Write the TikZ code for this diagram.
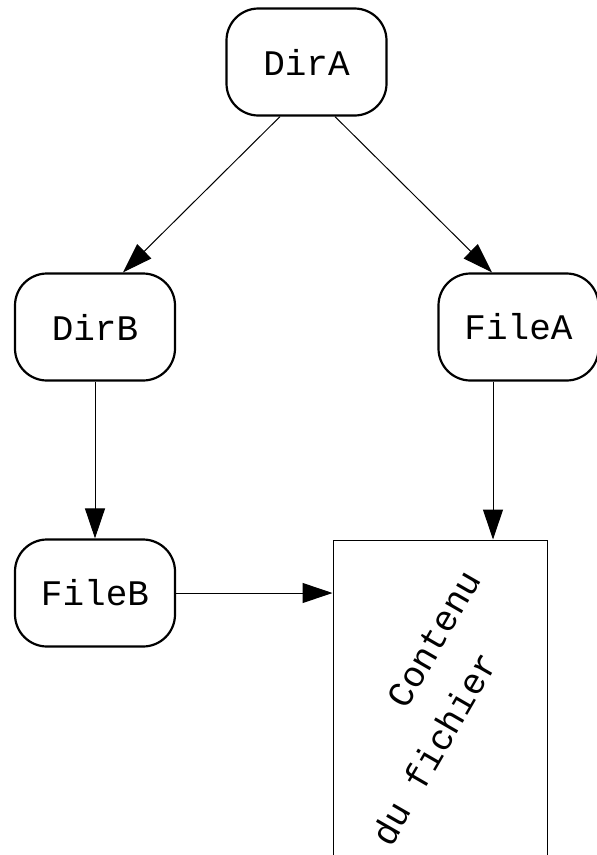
\documentclass[tikz,border=0pt]{standalone}
\usepackage{fontspec}
\setmonofont{Liberation Mono}
\usetikzlibrary{arrows.meta}
\tikzset{
  entry/.style={draw, line width=2.2pt, rounded corners=32pt,
    minimum width=160pt, minimum height=107pt, inner sep=0pt,
    font=\ttfamily\fontsize{36}{43}\selectfont},
  contents/.style={draw, line width=1pt, minimum width=214pt,
    minimum height=340pt, inner sep=0pt},
  rotlabel/.style={rotate=60, inner sep=0pt,
    font=\ttfamily\fontsize{36}{43}\selectfont},
  link/.style={line width=1pt, -{Triangle[length=30pt,width=20pt]}}
}
\begin{document}
\begin{tikzpicture}[x=1pt,y=-1pt]
  \useasboundingbox (0,0) rectangle (597,855);
  % directory and file entries
  \node[entry] (dirA)  at (306.5,62)  {DirA};
  \node[entry] (dirB)  at (95,327)    {DirB};
  \node[entry] (fileA) at (518.5,327) {FileA};
  \node[entry] (fileB) at (95,593)    {FileB};
  % file contents block
  \node[contents] (data) at (440,710) {};
  \node[rotlabel] (l1) at (434,639) {Contenu};
  \node[rotlabel] (l2) at (434,748.5) {du fichier};
  % link start below FileA
  \coordinate (fa) at ([xshift=-25.5pt]fileA.south);
  % links
  \draw[link] ([xshift=-26.5pt]dirA.south) -- ([xshift=28pt]dirB.north);
  \draw[link] ([xshift=28.5pt]dirA.south) -- ([xshift=-26.5pt]fileA.north);
  \draw[link] (dirB.south) -- (fileB.north);
  \draw[link] (fa) -- (fa |- data.north);
  \draw[link] (fileB.east) -- (fileB.east -| data.west);
\end{tikzpicture}
\end{document}
